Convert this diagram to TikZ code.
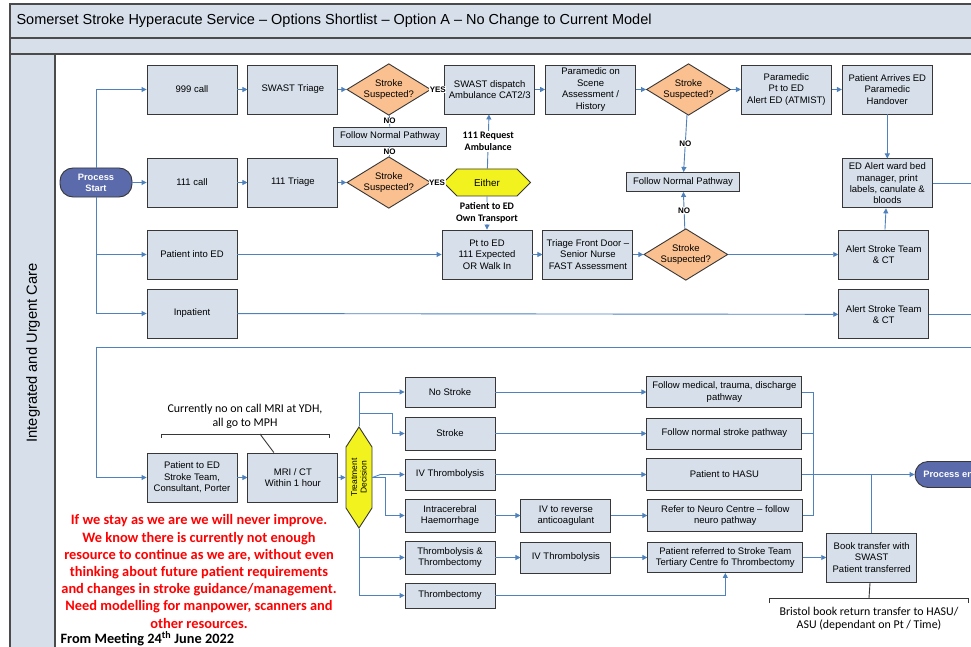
\documentclass[tikz,border=0pt]{standalone}
\usepackage{fontspec}
\setmainfont{Liberation Sans}
\newfontfamily\carl{Carlito}
\usetikzlibrary{arrows.meta, positioning, shapes.geometric, shapes.symbols}
\definecolor{boxfill}{RGB}{214,223,234}
\definecolor{flow}{RGB}{79,129,189}
\definecolor{decfill}{RGB}{250,192,143}
\definecolor{hexfill}{RGB}{242,242,30}
\definecolor{termfill}{RGB}{90,106,170}
\definecolor{edge}{RGB}{55,55,55}
\tikzset{
  blk/.style ={rectangle, draw=edge, line width=0.9pt, fill=boxfill, align=center, inner sep=2pt, minimum width=90pt, minimum height=49pt, font=\fontsize{9.5}{11.4}\selectfont},
  sbk/.style ={blk, minimum height=31pt},
  wbk/.style ={blk, minimum width=155pt, minimum height=31pt},
  fnp/.style ={blk, minimum width=113pt, minimum height=19pt},
  dec/.style ={diamond, draw=edge, line width=0.9pt, fill=decfill, aspect=1.6, inner sep=0pt, minimum width=84pt, minimum height=51pt, align=center, font=\fontsize{9.5}{11.4}\selectfont},
  hex/.style ={signal, signal to=east and west, signal pointer angle=90, draw=edge, line width=0.9pt, fill=hexfill, inner sep=1pt, minimum width=87pt, minimum height=27pt, font=\fontsize{9.8}{11}\selectfont},
  hexv/.style={signal, signal to=east and west, signal pointer angle=66, rotate=90, draw=edge, line width=0.9pt, fill=hexfill, inner sep=1pt, minimum width=101pt, minimum height=26pt, align=center, font=\fontsize{8.5}{9.5}\selectfont},
  term/.style={rectangle, rounded corners=13pt, draw=edge, line width=0.9pt, fill=termfill, text=white, align=center, minimum width=72pt, minimum height=29pt, font=\bfseries\fontsize{9.3}{11}\selectfont},
  frm/.style ={draw=edge!90, line width=1.1pt},
  fl/.style  ={-{Triangle[length=5pt,width=5pt]}, draw=flow, line width=0.9pt},
  ln/.style  ={draw=flow, line width=0.9pt},
  brk/.style ={draw=edge, line width=0.9pt},
  lbl/.style ={font=\carl\bfseries\fontsize{10}{12}\selectfont, fill=white, inner sep=1pt, align=center},
  yn/.style  ={font=\bfseries\fontsize{8}{9}\selectfont, fill=white, inner sep=0.5pt},
  note/.style={font=\carl\fontsize{11.9}{13.5}\selectfont, align=center},
  warn/.style={font=\carl\bfseries\fontsize{14.4}{17.2}\selectfont, text=red, align=center},
}
\begin{document}
\begin{tikzpicture}[x=1pt, y=-1pt]
  \useasboundingbox (0,0) rectangle (971,647);
  \fill[white] (0,0) rectangle (971,647);
  % swim lane frame
  \draw[frm, fill=boxfill] (10,4) rectangle (990,38);
  \draw[frm, fill=boxfill] (10,38) rectangle (990,54);
  \draw[frm, fill=boxfill] (10,54) rectangle (55,660);
  \draw[frm] (55,54) rectangle (990,660);
  \node[anchor=west, font=\fontsize{14.5}{16}\selectfont] (ttl) at (13,21) {Somerset Stroke Hyperacute Service – Options Shortlist – Option A – No Change to Current Model};
  \node[rotate=90, font=\fontsize{14.7}{16}\selectfont] (lane) at (33,353) {Integrated and Urgent Care};

  % upper part
  \node[term] (ps) at (96,182.5) {Process\\Start};
  \node[blk] (c999) at (192,89.5) {999 call};
  \node[blk, right=10pt of c999] (stri) {SWAST Triage};
  \node[dec, right=8pt of stri] (dec1) {Stroke\\Suspected?};
  \node[blk, right=13pt of dec1] (disp) {SWAST dispatch\\Ambulance CAT2/3};
  \node[blk, right=10pt of disp] (para) {Paramedic on\\Scene\\Assessment /\\History};
  \node[dec, right=10pt of para] (dec2) {Stroke\\Suspected?};
  \node[blk, right=10pt of dec2] (medic) {Paramedic\\Pt to ED\\Alert ED (ATMIST)};
  \node[blk, right=10pt of medic] (arrv) {Patient Arrives ED\\Paramedic\\Handover};
  \node[blk, below=44pt of arrv] (edal) {ED Alert ward bed\\manager, print\\labels, canulate \&\\bloods};
  \node[fnp] (fnp1) at (390,136.5) {Follow Normal Pathway};
  \node[fnp] (fnp2) at (683,182) {Follow Normal Pathway};
  \node[blk] (c111) at (192,182.5) {111 call};
  \node[blk, right=10pt of c111] (tri) {111 Triage};
  \node[dec, right=8pt of tri] (dec3) {Stroke\\Suspected?};
  \node[hex] (either) at (487,182.5) {Either};
  \node[blk] (ped) at (192,254.5) {Patient into ED};
  \node[blk] (pted) at (487,254.5) {Pt to ED\\111 Expected\\OR Walk In};
  \node[blk, right=10pt of pted] (fdoor) {Triage Front Door –\\Senior Nurse\\FAST Assessment};
  \node[dec, right=10pt of fdoor] (dec4) {Stroke\\Suspected?};
  \node[blk, right=110pt of dec4] (ast1) {Alert Stroke Team\\\& CT};
  \node[blk, below=10pt of ast1] (ast2) {Alert Stroke Team\\\& CT};
  \node[blk] (inp) at (192,313.5) {Inpatient};
  \coordinate (rin) at (980,347);

  \draw[fl] (ps) |- (c999);
  \draw[fl] (ps) -- (c111);
  \draw[fl] (ps) |- (ped);
  \draw[fl] (ps) |- (inp);
  \draw[fl] (c999) -- (stri);
  \draw[fl] (stri) -- (dec1);
  \draw[fl] (dec1) -- node[yn]{YES} (disp);
  \draw[fl] (disp) -- (para);
  \draw[fl] (para) -- (dec2);
  \draw[fl] (dec2) -- (medic);
  \draw[fl] (medic) -- (arrv);
  \draw[fl] (arrv) -- (edal);
  \draw[ln] (edal) -- (edal -| rin);
  \draw[ln] (dec1) -- node[yn]{NO} (fnp1);
  \draw[ln] (dec3) -- node[yn]{NO} (fnp1);
  \draw[fl] (dec2) -- node[yn]{NO} (fnp2);
  \draw[fl] (dec4) -- node[yn]{NO} (fnp2);
  \draw[fl] (c111) -- (tri);
  \draw[fl] (tri) -- (dec3);
  \draw[fl] (dec3) -- node[yn]{YES} (either);
  \draw[fl] (either) -- node[lbl]{111 Request\\Ambulance} (disp);
  \draw[fl] (either) -- node[lbl]{Patient to ED\\Own Transport} (pted);
  \draw[fl] (ped) -- (pted);
  \draw[fl] (pted) -- (fdoor);
  \draw[fl] (fdoor) -- (dec4);
  \draw[fl] (dec4) -- (ast1);
  \draw[fl] (ast1) -- (edal);
  \draw[fl] (inp) -- (ast2);
  \draw[ln] (ast2) -- (ast2 -| rin);

  % lower part
  \node[blk] (edst) at (192,477.5) {Patient to ED\\Stroke Team,\\Consultant, Porter};
  \node[blk, right=10pt of edst] (mri) {MRI / CT\\Within 1 hour};
  \node[hexv] (td) at (359,477.5) {Treatment\\Decision};
  \node[note] (mrinote) at (245,416.5) {Currently no on call MRI at YDH,\\all go to MPH};
  \node[sbk, minimum height=30pt] (nostk) at (450,392) {No Stroke};
  \node[sbk, minimum height=33pt] (stk) at (450,433.5) {Stroke};
  \node[sbk] (ivt) at (450,474.5) {IV Thrombolysis};
  \node[sbk, minimum height=33pt] (ich) at (450,515.5) {Intracerebral\\Haemorrhage};
  \node[sbk, minimum height=33pt] (tbt) at (450,557.5) {Thrombolysis \&\\Thrombectomy};
  \node[sbk, minimum height=25pt] (tbc) at (450,595.5) {Thrombectomy};
  \node[sbk, minimum height=33pt, right=25pt of ich] (ivrev) {IV to reverse\\anticoagulant};
  \node[sbk, right=25pt of tbt] (ivt2) {IV Thrombolysis};
  \node[wbk, right=151pt of nostk] (fmed) {Follow medical, trauma, discharge\\pathway};
  \node[wbk, right=151pt of stk] (fnsp) {Follow normal stroke pathway};
  \node[wbk, minimum height=32pt, right=151pt of ivt] (hasu) {Patient to HASU};
  \node[wbk, minimum height=32pt, right=36pt of ivrev] (neuro) {Refer to Neuro Centre – follow\\neuro pathway};
  \node[wbk, minimum height=30pt, right=36pt of ivt2] (tert) {Patient referred to Stroke Team\\Tertiary Centre fo Thrombectomy};
  \node[blk, right=23pt of tert] (book) {Book transfer with\\SWAST\\Patient transferred};
  \node[term, minimum height=26pt] (pend) at (951,474.5) {Process end};
  \node[note] (bristol) at (869,619) {Bristol book return transfer to HASU/\\ASU (dependant on Pt / Time)};
  \node[warn] (warn) at (199,571.5) {If we stay as we are we will never improve.\\We know there is currently not enough\\resource to continue as we are, without even\\thinking about future patient requirements\\and changes in stroke guidance/management.\\Need modelling for manpower, scanners and\\other resources.};
  \node[anchor=west, font=\carl\bfseries\fontsize{14.3}{15}\selectfont] (meet) at (57,639) {From Meeting 24\textsuperscript{th} June 2022};
  \coordinate (mrg) at (813,474.5);
  \coordinate (brc) at (260,434);
  \coordinate (bbr) at (869,598);

  \draw[fl] (rin) -- (rin -| ps) |- (edst);
  \draw[fl] (edst) -- (mri);
  \draw[fl] (mri) -- (td);
  \draw[brk] (161,437.5) -- (161,434) -- (329,434) -- (329,437.5);
  \draw[brk] (brc) -- ([xshift=-19pt]mri.north);
  \draw[fl] (td.east) |- (nostk);
  \draw[fl] (td.east) ++(0,-13) -- ++(33,0) |- (stk);
  \draw[fl] (td.south) -- ++(8,-3) -- (ivt);
  \draw[fl] (td.south) -- ++(13,0) |- (ich);
  \draw[fl] (td.west) |- (tbt);
  \draw[fl] (td.west) |- (tbc);
  \draw[fl] (nostk) -- (fmed);
  \draw[fl] (stk) -- (fnsp);
  \draw[fl] (ivt) -- (hasu);
  \draw[fl] (ich) -- (ivrev);
  \draw[fl] (ivrev) -- (neuro);
  \draw[fl] (tbt) -- (ivt2);
  \draw[fl] (ivt2) -- (tert);
  \draw[fl] (tbc) -| (tert);
  \draw[ln] (fmed) -| (mrg);
  \draw[ln] (fnsp) -| (mrg);
  \draw[ln] (neuro) -| (mrg);
  \draw[fl] (hasu) -- (pend);
  \draw[ln] (book) -- (book |- hasu);
  \draw[fl] (tert) -- (book);
  \draw[brk] (book) -- (bbr);
  \draw[brk] (769,603) -- (769,598) -- (968,598) -- (968,603);
\end{tikzpicture}
\end{document}
